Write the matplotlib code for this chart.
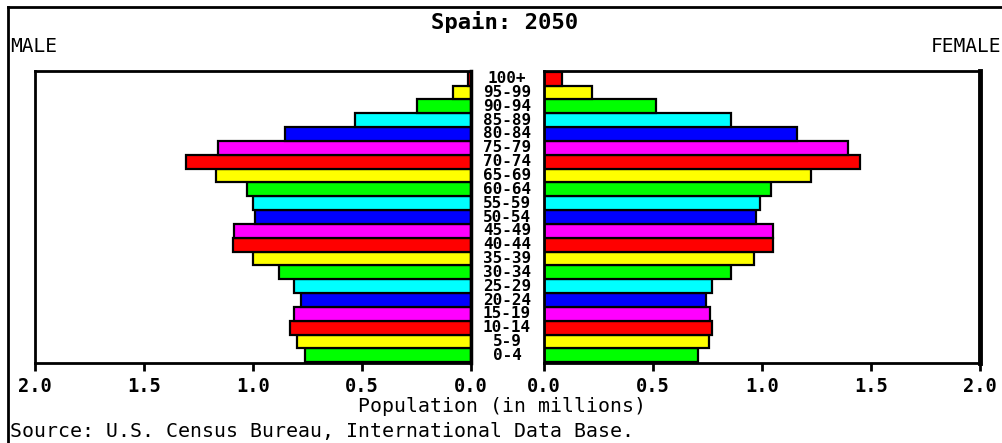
import matplotlib
matplotlib.use("Agg")
import matplotlib.pyplot as plt
from matplotlib.lines import Line2D
from matplotlib.transforms import blended_transform_factory

# age groups, bottom to top
ages = ['0-4', '5-9', '10-14', '15-19', '20-24', '25-29', '30-34',
        '35-39', '40-44', '45-49', '50-54', '55-59', '60-64', '65-69',
        '70-74', '75-79', '80-84', '85-89', '90-94', '95-99', '100+']

# population in millions
male = [0.76, 0.80, 0.83, 0.81, 0.78, 0.81, 0.88,
        1.00, 1.09, 1.085, 0.99, 1.00, 1.027, 1.17,
        1.306, 1.16, 0.855, 0.533, 0.247, 0.084, 0.016]
female = [0.707, 0.755, 0.772, 0.763, 0.743, 0.771, 0.858,
          0.964, 1.05, 1.05, 0.973, 0.992, 1.042, 1.226,
          1.448, 1.395, 1.159, 0.858, 0.515, 0.22, 0.081]

ticks = [0.0, 0.5, 1.0, 1.5, 2.0]
palette = ['#00ff00', '#ffff00', '#ff0000', '#ff00ff', '#0000ff', '#00ffff']
colors = [palette[i % len(palette)] for i in range(len(ages))]

W, H = 1003, 443
fig = plt.figure(figsize=(W / 100, H / 100), dpi=100)
mono = 'DejaVu Sans Mono'


def fx(px):
    return px / W


def fy(py):
    return 1 - py / H


ax_l = fig.add_axes([fx(35), fy(363), fx(471) - fx(35), fy(71) - fy(363)])
ax_r = fig.add_axes([fx(544), fy(363), fx(980) - fx(544), fy(71) - fy(363)])

ypos = list(range(len(ages)))
ax_l.barh(ypos, male, height=1.0, color=colors, edgecolor='black', linewidth=1.6)
ax_r.barh(ypos, female, height=1.0, color=colors, edgecolor='black', linewidth=1.6)

ax_l.set_xlim(2.0, 0.0)
ax_r.set_xlim(0.0, 2.0)
for ax in (ax_l, ax_r):
    ax.set_ylim(-0.55, len(ages) - 0.45)
    ax.set_yticks([])
    ax.set_xticks(ticks)
    ax.set_xticklabels(['%.1f' % t for t in ticks], fontfamily=mono,
                       fontweight='bold', fontsize=13.5)
    ax.tick_params(axis='x', direction='out', length=6, width=2, pad=4)
    for s in ax.spines.values():
        s.set_linewidth(2)
ax_l.spines['right'].set_linewidth(2.5)
ax_r.spines['right'].set_linewidth(3.5)

# age labels in the gap between the two panels
trans = blended_transform_factory(fig.transFigure, ax_l.transData)
for i, a in enumerate(ages):
    ax_l.text(fx(507), i, a, transform=trans, ha='center', va='center',
              fontfamily=mono, fontweight='bold', fontsize=11.5, clip_on=False)

fig.text(fx(505), fy(22), 'Spain: 2050', ha='center', va='center',
         fontfamily=mono, fontweight='bold', fontsize=16)
fig.text(fx(10), fy(47), 'MALE', ha='left', va='center', fontfamily=mono, fontsize=14)
fig.text(fx(1001), fy(47), 'FEMALE', ha='right', va='center', fontfamily=mono, fontsize=14)
fig.text(fx(502), fy(407), 'Population (in millions)', ha='center', va='center',
         fontfamily=mono, fontsize=14.3)
fig.text(fx(10), fy(432), 'Source: U.S. Census Bureau, International Data Base.',
         ha='left', va='center', fontfamily=mono, fontsize=14.3)

# outer border lines (top and left)
fig.add_artist(Line2D([fx(8), 1], [fy(7), fy(7)], color='black', linewidth=2))
fig.add_artist(Line2D([fx(8), fx(8)], [fy(7), 0], color='black', linewidth=2))

fig.savefig('out.png', dpi=100)
